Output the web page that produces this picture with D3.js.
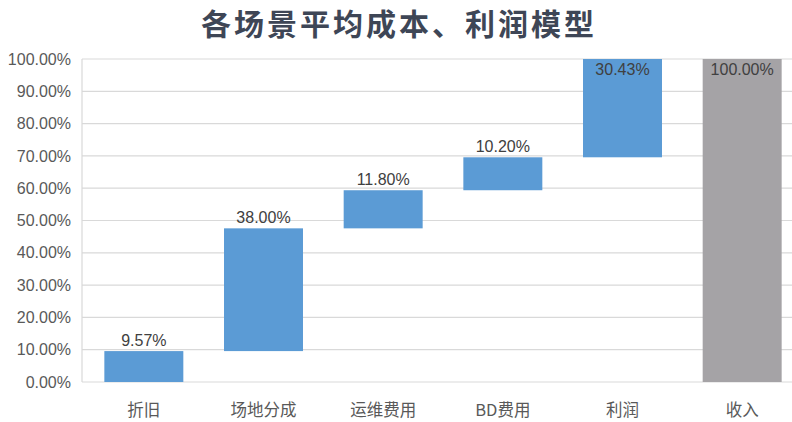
<!DOCTYPE html>
<html>
<head>
<meta charset="utf-8">
<script src="https://cdn.jsdelivr.net/npm/d3@7"></script>
<style>
  body { margin: 0; background: #fff; }
  svg { display: block; }
</style>
</head>
<body>
<svg id="chart"></svg>
<script>
const categories = ["折旧", "场地分成", "运维费用", "BD费用", "利润", "收入"];
const values = [9.57, 38.0, 11.8, 10.2, 30.43, 100.0];
const isTotal = [false, false, false, false, false, true];
const yTicks = [0, 10, 20, 30, 40, 50, 60, 70, 80, 90, 100];

const width = 792, height = 422;
const margin = { top: 59, right: -10, bottom: 40, left: 84 };

// running base for the waterfall steps
let running = 0;
const bars = categories.map((c, i) => {
  const start = isTotal[i] ? 0 : running;
  const end = isTotal[i] ? values[i] : running + values[i];
  if (!isTotal[i]) running = end;
  return { cat: c, value: values[i], start, end, total: isTotal[i] };
});

const svg = d3.select("#chart").attr("width", width).attr("height", height);

const x = d3.scaleBand()
  .domain(categories)
  .range([margin.left, width - margin.right])
  .paddingInner(0.34)
  .paddingOuter(0.17);

const y = d3.scaleLinear()
  .domain([0, 100])
  .range([height - margin.bottom, margin.top]);

const fmt = d => d3.format(".2f")(d) + "%";
const numFont = "'Liberation Sans', Arial, sans-serif";
const cjkFont = "'Noto Sans CJK SC', 'Noto Sans', sans-serif";

// title
svg.append("text")
  .attr("x", 399)
  .attr("y", 35)
  .attr("text-anchor", "middle")
  .attr("font-family", cjkFont)
  .attr("font-weight", "bold")
  .attr("font-size", 30)
  .attr("letter-spacing", 3)
  .attr("fill", "#3e4656")
  .text("各场景平均成本、利润模型");

// gridlines
svg.append("g")
  .selectAll("line")
  .data(yTicks)
  .join("line")
  .attr("x1", margin.left - 2)
  .attr("x2", width)
  .attr("y1", d => y(d))
  .attr("y2", d => y(d))
  .attr("stroke", "#d9d9d9")
  .attr("stroke-width", 1.2);

// left edge of plot area
svg.append("line")
  .attr("x1", margin.left - 2).attr("x2", margin.left - 2)
  .attr("y1", y(100)).attr("y2", y(0))
  .attr("stroke", "#d9d9d9")
  .attr("stroke-width", 1.2);

// y axis labels
const yAxis = svg.append("g")
  .attr("transform", `translate(${margin.left - 13},0)`)
  .call(d3.axisLeft(y).tickValues(yTicks).tickFormat(fmt).tickSize(0).tickPadding(0));
yAxis.select(".domain").remove();
yAxis.selectAll("text")
  .attr("font-family", numFont)
  .attr("font-size", 16)
  .attr("fill", "#595959");

// x axis labels
const xAxis = svg.append("g")
  .attr("transform", `translate(0,${y(0)})`)
  .call(d3.axisBottom(x).tickSize(0).tickPadding(22));
xAxis.select(".domain").remove();
xAxis.selectAll("text")
  .attr("font-family", cjkFont)
  .attr("font-size", 16.5)
  .attr("fill", "#595959");

// bars
svg.append("g")
  .selectAll("rect")
  .data(bars)
  .join("rect")
  .attr("x", d => x(d.cat))
  .attr("width", x.bandwidth())
  .attr("y", d => y(d.end))
  .attr("height", d => y(d.start) - y(d.end))
  .attr("fill", d => d.total ? "#a5a3a6" : "#5b9bd5");

// data labels: above the bar, or just inside when it reaches the top
svg.append("g")
  .selectAll("text")
  .data(bars)
  .join("text")
  .attr("x", d => x(d.cat) + x.bandwidth() / 2)
  .attr("y", d => d.end >= 99 ? y(d.end) + 16 : y(d.end) - 5)
  .attr("text-anchor", "middle")
  .attr("font-family", numFont)
  .attr("font-size", 16)
  .attr("fill", "#404040")
  .text(d => fmt(d.value));
</script>
</body>
</html>
